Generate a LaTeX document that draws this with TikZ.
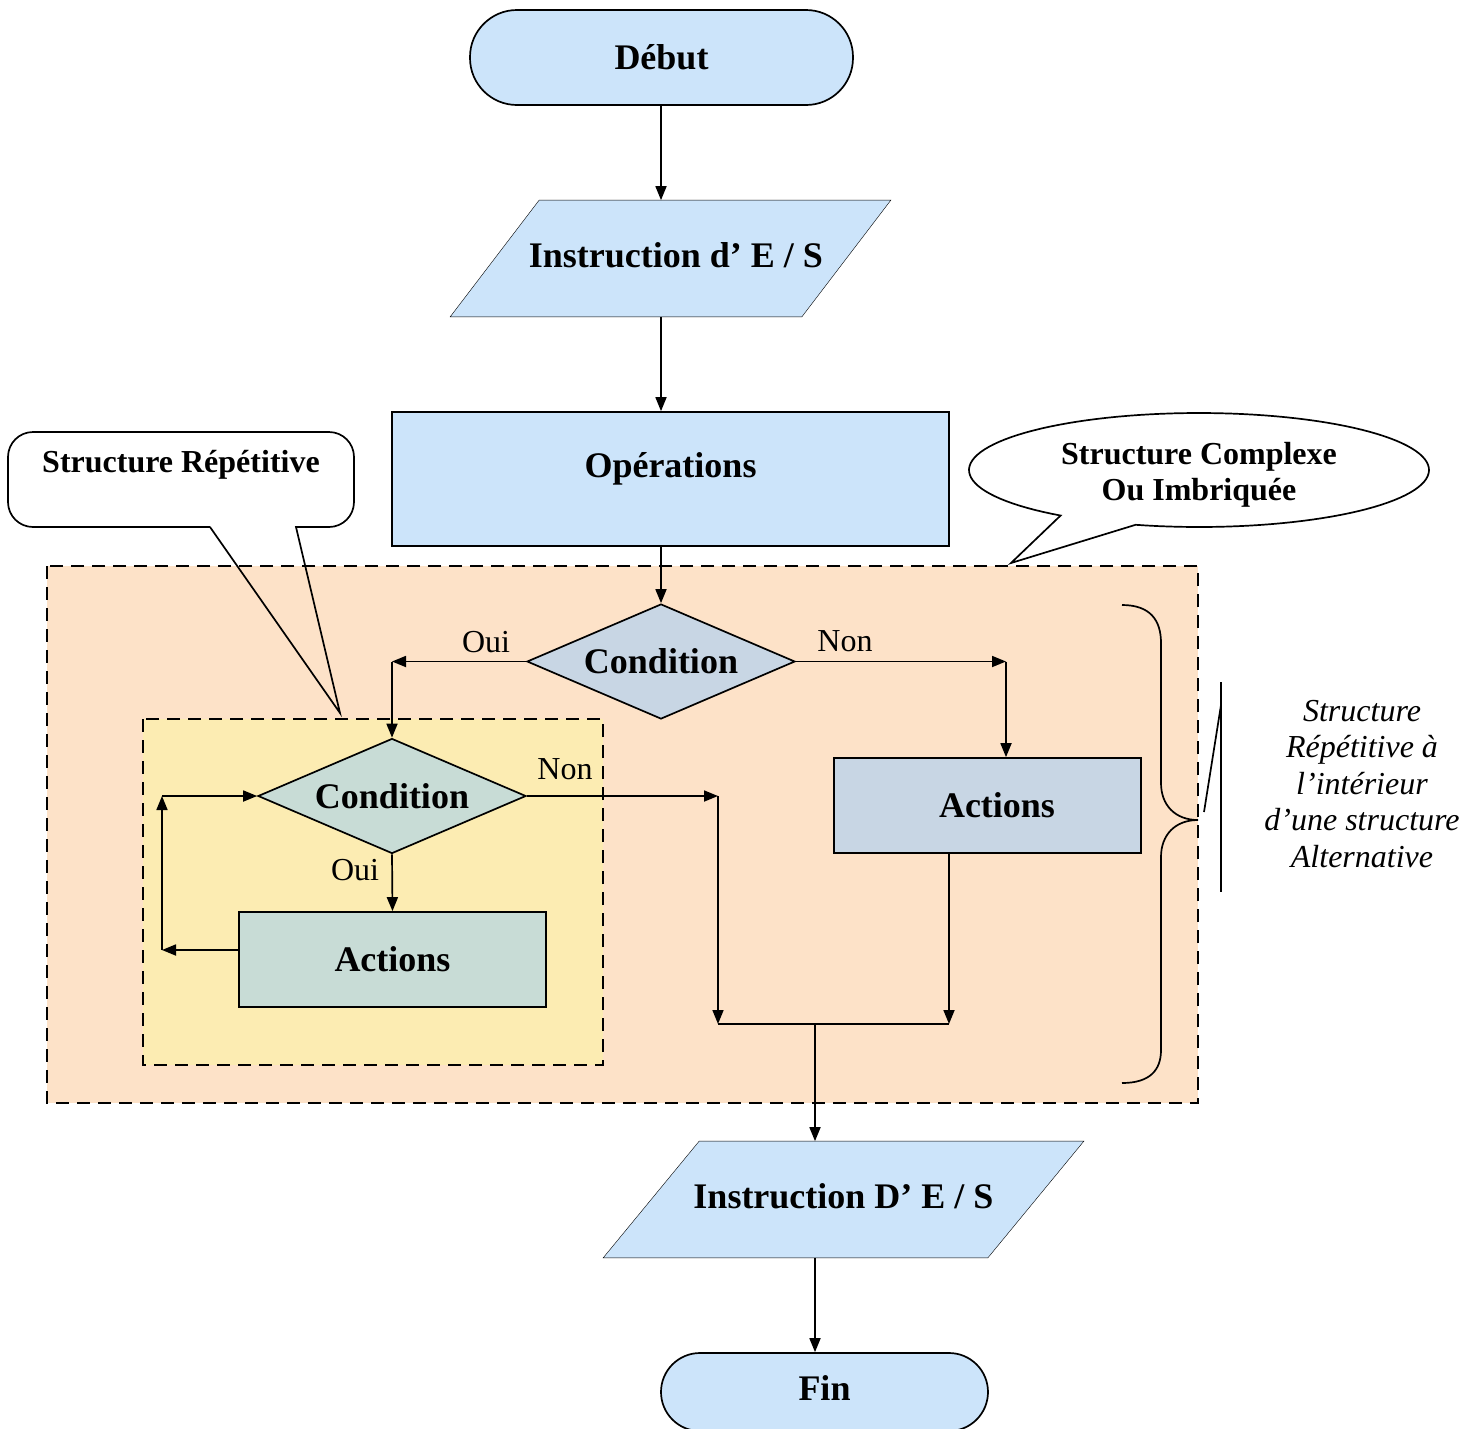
\documentclass[tikz,border=0pt]{standalone}
\usepackage{fontspec}
\setmainfont{Liberation Serif}
\usetikzlibrary{shapes.geometric,arrows.meta,calc,backgrounds}
\definecolor{boxblue}{RGB}{204,228,250}
\definecolor{peach}{RGB}{253,226,200}
\definecolor{yell}{RGB}{252,236,178}
\definecolor{cblue}{RGB}{200,214,228}
\definecolor{cgreen}{RGB}{200,220,214}
\begin{document}
\begin{tikzpicture}[x=1pt,y=-1pt,line width=1.7pt,
  arr/.style={-{Triangle[length=14pt,width=11pt]}},
  bigb/.style={font=\fontsize{36}{40}\selectfont\bfseries},
  midb/.style={font=\fontsize{32}{36}\selectfont\bfseries},
  lab/.style={font=\fontsize{32}{36}\selectfont},
  boxnode/.style={draw,inner sep=0pt,bigb},
  dia/.style={diamond,draw,inner sep=0pt,minimum width=268pt,minimum height=115pt,aspect=2.33,bigb},
  zone/.style={draw,dashed,dash pattern=on 13pt off 8pt,line width=1.6pt}]
\useasboundingbox (0,0) rectangle (1478,1428);

% zones
\fill[peach] (47,566) rectangle (1198,1103);
\draw[zone] (47,566) rectangle (1198,1103);
\fill[yell] (143,719) rectangle (603,1065);
\draw[zone] (143,719) rectangle (603,1065);

% nodes
\node[boxnode,fill=boxblue,rounded corners=47pt,minimum width=383pt,minimum height=95pt] (debut) at (661.5,57.5) {\raisebox{-5pt}{Début}};
\node[inner sep=0pt,minimum width=439pt,minimum height=115pt,bigb] (io1) at (670.5,258.5) {\hspace*{11pt}\raisebox{6pt}{Instruction d’ E / S}};
\node[boxnode,fill=boxblue,minimum width=557pt,minimum height=134pt] (ops) at (670.5,479) {\raisebox{28pt}{Opérations}};
\node[dia,fill=cblue] (cond1) at (661,661.5) {Condition};
\node[dia,fill=cgreen] (cond2) at (392,796) {Condition};
\node[boxnode,fill=cblue,minimum width=307pt,minimum height=95pt] (act1) at (987.5,805.5) {\hspace*{19pt}\raisebox{-6pt}{Actions}};
\node[boxnode,fill=cgreen,minimum width=307pt,minimum height=95pt] (act2) at (392.5,959.5) {\raisebox{-16pt}{Actions}};
\node[inner sep=0pt,minimum width=479pt,minimum height=115pt,bigb] (io2) at (843.5,1199.5) {\raisebox{8pt}{Instruction D’ E / S}};
\node[boxnode,fill=boxblue,rounded corners=39pt,minimum width=327pt,minimum height=78pt] (fin) at (824.5,1392) {\raisebox{8pt}{Fin}};

\begin{scope}[on background layer]
\draw[fill=boxblue] ($(io1.north west)+(89,0)$) -- (io1.north east) -- ($(io1.south east)+(-89,0)$) -- (io1.south west) -- cycle;
\draw[fill=boxblue] ($(io2.north west)+(96,0)$) -- (io2.north east) -- ($(io2.south east)+(-96,0)$) -- (io2.south west) -- cycle;
\end{scope}

% coordinates
\coordinate (axis) at (661,0);
\coordinate (c1r) at (1006,661.5);
\coordinate (c2r) at (718,796);
\coordinate (mL) at (718,1024);
\coordinate (mR) at (949,1024);
\coordinate (mM) at (815,1024);
\coordinate (lb) at (162,950);
\coordinate (lt) at (162,796);

% connectors
\draw[arr] (debut.south -| axis) -- (io1.north -| axis);
\draw[arr] (io1.south -| axis) -- (ops.north -| axis);
\draw[arr] (ops.south -| axis) -- (cond1.north);
\draw[arr] (cond1.west) -- (cond1.west -| cond2);
\draw[arr] (cond1.west -| cond2) -- (cond2.north);
\draw[arr] (cond1.east) -- (c1r);
\draw[arr] (c1r) -- (c1r |- act1.north);
\draw[arr] (cond2.east) -- (c2r);
\draw[arr] (c2r) -- (mL);
\draw[arr] (cond2.south) -- (act2.north);
\draw[arr] (act2.west |- lb) -- (lb);
\draw[arr] (lb) -- (lt);
\draw[arr] (lt) -- (cond2.west);
\draw[arr] (act1.south -| mR) -- (mR);
\draw (mL) -- (mR);
\draw[arr] (mM) -- (io2.north -| mM);
\draw[arr] (io2.south -| mM) -- (fin.north -| mM);

% labels
\node[lab] (oui1) at (486,642) {Oui};
\node[lab] (non1) at (845,641) {Non};
\node[lab] (non2) at (565,769) {Non};
\node[lab] (oui2) at (355,870) {Oui};

% callout 1
\fill[white,rounded corners=25pt] (8,432) rectangle (354,527);
\draw (210,527) [rounded corners=25pt] -- (8,527) -- (8,432) -- (354,432) -- (354,527) [sharp corners] -- (296,527) -- (340,713) -- (210,527);
\node[midb] (cl1) at (181,465) {Structure Répétitive};

% callout 2
\draw[fill=white] plot[domain=-233:106,samples=120] ({1199+230*cos(\x)},{470+57*sin(\x)}) -- (1011,563) -- cycle;
\node[midb,align=center] (cl2) at (1199,475) {Structure Complexe\\Ou Imbriquée};

% brace
\draw (1122,605) .. controls (1150,605) and (1161,620) .. (1161,643) -- (1161,783)
  .. controls (1161,805) and (1175,820) .. (1198,820)
  .. controls (1175,820) and (1161,835) .. (1161,857) -- (1161,1050)
  .. controls (1161,1070) and (1150,1083) .. (1122,1083);
\coordinate (bt) at (1221,682);
\coordinate (bb) at (1221,892);
\draw (bt) -- (bb);
\draw (1221,705) -- (1204,812);
\node[align=center,font=\fontsize{32}{36.5}\selectfont\itshape] (note) at (1362,784)
  {Structure\\Répétitive à\\l’intérieur\\d’une structure\\Alternative};
\end{tikzpicture}
\end{document}
